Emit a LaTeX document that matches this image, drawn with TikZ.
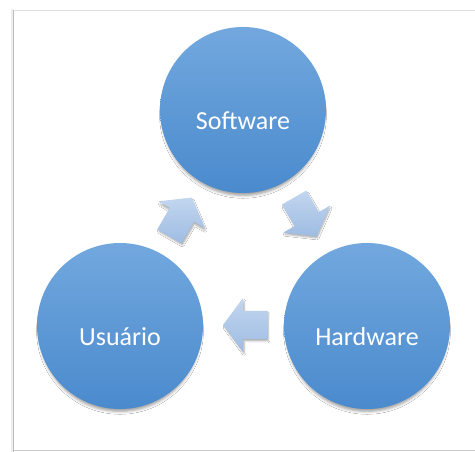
\documentclass[tikz,border=0pt]{standalone}
\usepackage{fontspec}
\setmainfont{Carlito}
\usetikzlibrary{shadows.blur}

\definecolor{discTop}{RGB}{114,168,222}
\definecolor{discBot}{RGB}{74,138,205}
\definecolor{arrTop}{RGB}{194,214,239}
\definecolor{arrBot}{RGB}{158,188,226}
\definecolor{frameLine}{RGB}{188,188,188}

\begin{document}
\begin{tikzpicture}[x=1pt,y=-1pt,
  disc/.style={circle, minimum size=166pt, inner sep=0pt, draw=none,
    top color=discTop, bottom color=discBot,
    blur shadow={shadow xshift=0pt, shadow yshift=-5pt, shadow scale=0.97,
      shadow blur radius=3pt, shadow opacity=40}},
  lbl/.style={text=white, inner sep=0pt, font=\fontsize{26}{30}\selectfont},
  cyclearrow/.style={draw=none, top color=arrTop, bottom color=arrBot,
    blur shadow={shadow xshift=1pt, shadow yshift=-2.5pt, shadow scale=0.96,
      shadow blur radius=2pt, shadow opacity=35}}]

  % canvas and page frame
  \fill[white] (0,0) rectangle (475,452);
  \useasboundingbox (0,0) rectangle (475,452);
  \fill[black!7] (10.5,9) rectangle (12.8,452);
  \draw[frameLine, line width=1.6pt] (13.6,10) -- (13.6,452);
  \draw[black!12, line width=0.8pt] (13.6,10.6) -- (475,10.6);
  \draw[black!20, line width=0.8pt] (13.6,450.6) -- (475,450.6);

  % the three stages
  \node[disc] (sw) at (243,110) {};
  \node[disc] (us) at (120,326) {};
  \node[disc] (hw) at (367,326) {};

  \node[lbl] (swtext) at (243,121) {Software};
  \node[lbl] (ustext) at (120,337) {Usuário};
  \node[lbl] (hwtext) at (367,337) {Hardware};

  % arrow anchors on the cycle
  \coordinate (a1) at (180.6,217);
  \coordinate (a2) at (305.4,217);
  \coordinate (a3) at (245.5,325);

  % block arrows: Usuário -> Software -> Hardware -> Usuário
  \path[cyclearrow, shift={(a1)}, rotate=60]
    (-22.5,-14) -- (2.5,-14) -- (2.5,-27) -- (22.5,0) -- (2.5,27) -- (2.5,14) -- (-22.5,14) -- cycle;
  \path[cyclearrow, shift={(a2)}, rotate=-60]
    (-22.5,-14) -- (2.5,-14) -- (2.5,-27) -- (22.5,0) -- (2.5,27) -- (2.5,14) -- (-22.5,14) -- cycle;
  \path[cyclearrow, shift={(a3)}, rotate=180]
    (-22.5,-14) -- (2.5,-14) -- (2.5,-27) -- (22.5,0) -- (2.5,27) -- (2.5,14) -- (-22.5,14) -- cycle;
\end{tikzpicture}
\end{document}
